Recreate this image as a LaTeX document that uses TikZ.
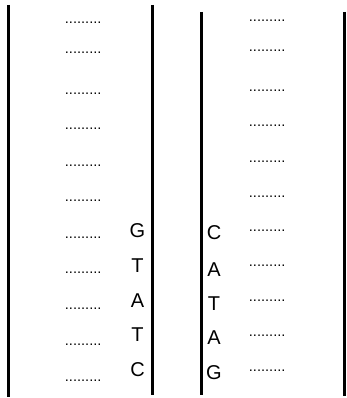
\documentclass[tikz,border=0pt]{standalone}
\usepackage{fontspec}
\setmainfont{Liberation Sans}
\usepackage{tikz}
\usetikzlibrary{positioning}
\tikzset{
  strand/.style    = {draw=black, line width=3pt, line cap=butt},
  bond/.style      = {anchor=base west, inner sep=0pt,
                      font=\fontsize{14.6}{16}\selectfont},
  base/.style      = {anchor=base, inner sep=0pt,
                      font=\fontsize{20}{22}\selectfont},
}

\begin{document}
\begin{tikzpicture}[x=1pt, y=-1pt]
  \useasboundingbox (0,0) rectangle (346,398);
  % the two strands of each double helix
  \coordinate (l1top) at (8.5,5);   \coordinate (l1bot) at (8.5,397);
  \coordinate (l2top) at (152.5,5); \coordinate (l2bot) at (152.5,395);
  \coordinate (r1top) at (201.5,12); \coordinate (r1bot) at (201.5,395);
  \coordinate (r2top) at (344.5,12); \coordinate (r2bot) at (344.5,396);
  \draw[strand] (l1top) -- (l1bot);
  \draw[strand] (l2top) -- (l2bot);
  \draw[strand] (r1top) -- (r1bot);
  \draw[strand] (r2top) -- (r2bot);
  % hydrogen bonds
  \foreach \y [count=\i] in {23,53,94,129,165,200,237,272,308,344,380}
    \node[bond] (lb\i) at (64.7,\y+1) {.........};
  \foreach \y [count=\i] in {21,51,91,126,161,196,230,265,300,335,370}
    \node[bond] (rb\i) at (248.7,\y+1) {.........};
  % exposed bases
  \foreach \b/\y [count=\i] in {G/230.5,T/265,A/300,T/334.5,C/369.5}
    \node[base] (lbase\i) at (137.5,\y+7.2) {\b};
  \foreach \b/\y [count=\i] in {C/232.5,A/269.5,T/303.5,A/337.5,G/372.5}
    \node[base] (rbase\i) at (214,\y+7.2) {\b};
\end{tikzpicture}
\end{document}
